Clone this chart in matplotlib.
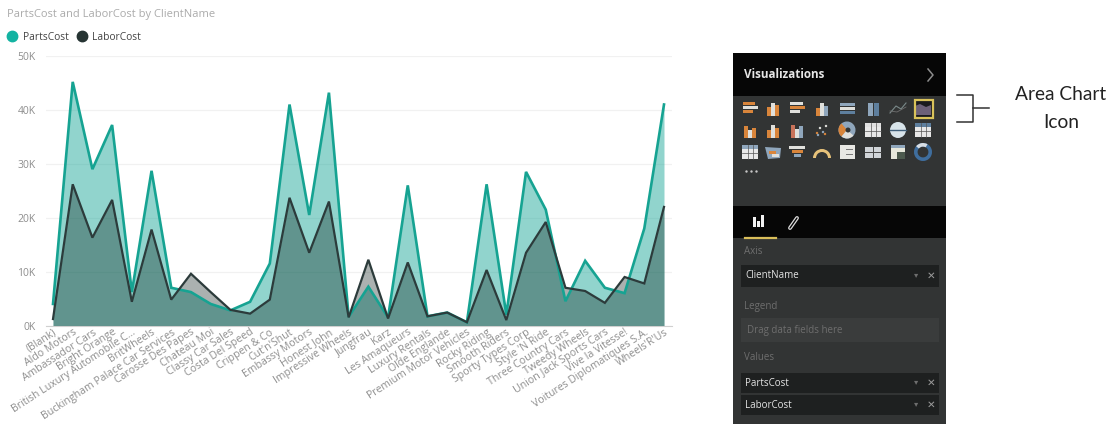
import matplotlib
matplotlib.use("Agg")
import matplotlib.pyplot as plt
from matplotlib.lines import Line2D
from matplotlib.patches import Rectangle, Circle, Wedge, Polygon

plt.rcParams['font.family'] = ['Open Sans', 'DejaVu Sans']

W, H = 1115, 424

clients = ["(Blank)", "Aldo Motors", "Ambassador Cars", "Bright Orange", "British Luxury Automobile C...",
           "BritWheels", "Buckingham Palace Car Services", "Carosse Des Papes", "Chateau Moi", "Classy Car Sales",
           "Costa Del Speed", "Crippen & Co", "Cut'n'Shut", "Embassy Motors", "Honest John", "Impressive Wheels",
           "Jungfrau", "Karz", "Les Amaqueurs", "Luxury Rentals", "Olde Englande", "Premium Motor Vehicles",
           "Rocky Riding", "Smooth Riders", "Sporty Types Corp", "Style 'N Ride", "Three Country Cars",
           "Tweedy Wheels", "Union Jack Sports Cars", "Vive la Vitesse!", "Voitures Diplomatiques S.A.", "Wheels'R'Us"]
parts_cost = [4000, 45200, 29000, 37200, 6200, 28700, 7000, 6200, 4000, 2800, 4400, 11500, 41000, 20500, 43200, 1600,
              7200, 1500, 26000, 1700, 2400, 600, 26200, 2000, 28500, 21500, 4500, 12000, 7000, 6000, 18000, 41000]
labor_cost = [1200, 26200, 16300, 23300, 4400, 17800, 4800, 9600, 6200, 2900, 2200, 4800, 23700, 13500, 23000, 1500,
              12200, 1300, 11700, 1700, 2400, 600, 10300, 1000, 13500, 19200, 7000, 6400, 4200, 9000, 7800, 22000]
y_ticks = [0, 10000, 20000, 30000, 40000, 50000]
y_labels = ["0K", "10K", "20K", "30K", "40K", "50K"]

TEAL = "#16A392"
DARK = "#2C3B3B"
GREY = "#8E8E8E"

fig = plt.figure(figsize=(W / 100, H / 100), dpi=100, facecolor="white")

L, R, T, B = 46, 672, 56, 325.5
ax = fig.add_axes([L / W, 1 - B / H, (R - L) / W, (B - T) / H])
x = list(range(len(clients)))
ax.fill_between(x, parts_cost, color="#19A697", alpha=0.48, lw=0, zorder=2)
ax.fill_between(x, labor_cost, color="#00140F", alpha=0.33, lw=0, zorder=3)
ax.plot(x, parts_cost, color=TEAL, lw=1.9, zorder=4, solid_joinstyle="miter")
ax.plot(x, labor_cost, color=DARK, lw=1.6, zorder=5, solid_joinstyle="miter")
ax.set_xlim(-7 / 19.71, 31 + 8 / 19.71)
ax.set_ylim(0, 50000)
ax.set_yticks(y_ticks, y_labels, fontsize=7.5, color=GREY)
ax.set_xticks(x, clients, fontsize=7.6, color=GREY, rotation=33, ha="right", rotation_mode="anchor")
ax.tick_params(length=0)
ax.tick_params(axis="y", pad=7.5)
ax.tick_params(axis="x", pad=1)
ax.grid(axis="y", color="#F1F1F1", lw=0.9, zorder=0)
ax.set_axisbelow(True)
for s in ["top", "left", "right"]:
    ax.spines[s].set_visible(False)
ax.spines["bottom"].set_color("#D0D0D0")
ax.patch.set_alpha(0)

handles = [Line2D([], [], ls="", marker="o", ms=7.5, color="#13B3A2", label="PartsCost"),
           Line2D([], [], ls="", marker="o", ms=7.5, color="#263433", label="LaborCost")]
leg = fig.legend(handles=handles, loc="lower left", bbox_to_anchor=(-3 / W, 1 - 48 / H), ncol=2, frameon=False,
                 fontsize=7.4, handletextpad=0.0, columnspacing=0.3, labelcolor="#444444", borderpad=0.0)

# pixel-space overlay for title and the side panel
ov = fig.add_axes([0, 0, 1, 1], zorder=-1)
ov.set_xlim(0, W)
ov.set_ylim(H, 0)
ov.axis("off")
ov.text(7, 14.5, "PartsCost and LaborCost by ClientName", fontsize=8, color="#ABABAB", va="center")

# panel
ov.add_patch(Rectangle((733, 53), 213, 371, color="#323434", lw=0))
ov.add_patch(Rectangle((733, 53), 213, 43, color="#060606", lw=0))
ov.add_patch(Rectangle((733, 206), 213, 32, color="#060606", lw=0))
ov.text(744, 75, "Visualizations", fontsize=8.4, color="#E6E6E6", fontweight="bold", va="center")
ov.plot([928, 933, 928], [69, 75, 81], color="#8C8C8C", lw=1.1)

ORANGE, BLUE, WHITE, SLATE = "#D9853B", "#5E7F9E", "#E0E0DC", "#8FA6BC"
xs = [750, 773, 797, 822, 847, 873, 898, 923]
ys = [108, 130, 152]

def bars(cx, cy, spec):
    for dx, w, h, c in spec:
        ov.add_patch(Rectangle((cx + dx, cy + 7 - h), w + 0.8, h + 1, color=c, lw=0))

def hbars(cx, cy, spec):
    for dy, w, c in spec:
        ov.add_patch(Rectangle((cx - 7.5, cy + dy), w + 1, 3.4, color=c, lw=0))

def grid(cx, cy, top="#8FA6BC"):
    ov.add_patch(Rectangle((cx - 8, cy - 7), 16, 14, color="#E8E8E8", lw=0))
    ov.add_patch(Rectangle((cx - 8, cy - 7), 16, 3.5, color=top, lw=0))
    ov.plot([cx - 2.5, cx - 2.5], [cy - 7, cy + 7], color="#555555", lw=0.5)
    ov.plot([cx + 2.5, cx + 2.5], [cy - 7, cy + 7], color="#555555", lw=0.5)
    ov.plot([cx - 8, cx + 8], [cy + 1, cy + 1], color="#555555", lw=0.5)

hbars(xs[0], ys[0], [(-6, 11, ORANGE), (-2, 14, WHITE), (2, 9, ORANGE)])
bars(xs[1], ys[0], [(-6, 3, 8, ORANGE), (-2, 3, 12, WHITE), (2, 3, 10, ORANGE)])
hbars(xs[2], ys[0], [(-6, 12, WHITE), (-2, 14, ORANGE), (2, 9, WHITE)])
bars(xs[3], ys[0], [(-6, 3, 7, ORANGE), (-2, 3, 12, WHITE), (2, 3, 9, SLATE)])
hbars(xs[4], ys[0], [(-5, 14, SLATE), (-1, 14, WHITE), (3, 14, BLUE)])
bars(xs[5], ys[0], [(-5, 4, 12, SLATE), (1, 4, 12, BLUE)])
ov.plot([xs[6] - 8, xs[6] - 2, xs[6] + 3, xs[6] + 8], [ys[0] + 5, ys[0] - 2, ys[0] + 1, ys[0] - 5], color="#7A8A8A", lw=0.8)
ov.plot([xs[6] - 8, xs[6] - 1, xs[6] + 8], [ys[0] + 3, ys[0] + 4, ys[0] - 1], color="#6F6F6F", lw=0.6)
ov.add_patch(Rectangle((915, 100), 17, 17, color="#1A1A1E", lw=0))
ov.add_patch(Polygon([(xs[7] - 8, ys[0] - 2), (xs[7] - 3, ys[0] - 4), (xs[7] + 3, ys[0] - 1), (xs[7] + 8, ys[0] - 3),
                      (xs[7] + 8, ys[0] + 7), (xs[7] - 8, ys[0] + 7)], color="#6C6078", lw=0))
ov.add_patch(Rectangle((914.5, 99.5), 18.5, 18.5, fill=False, ec="#D9C25A", lw=1.6))

bars(xs[0], ys[1], [(-6, 3, 11, ORANGE), (-2, 3, 7, WHITE), (2, 3, 9, ORANGE)])
bars(xs[1], ys[1], [(-6, 3, 7, ORANGE), (-2, 3, 12, WHITE), (2, 3, 9, ORANGE)])
bars(xs[2], ys[1], [(-6, 3, 12, "#C9735A"), (-2, 3, 8, WHITE), (2, 3, 11, SLATE)])
ov.scatter([xs[3] - 5, xs[3] - 2, xs[3] + 1, xs[3] + 4, xs[3] - 4, xs[3] + 3],
           [ys[1] + 3, ys[1] - 2, ys[1] + 2, ys[1] - 4, ys[1] + 5, ys[1] + 4], s=3, c=[ORANGE, WHITE, SLATE, WHITE, SLATE, ORANGE], lw=0)
ov.add_patch(Wedge((xs[4], ys[1]), 8.5, 0, 360, color=SLATE, lw=0))
ov.add_patch(Wedge((xs[4], ys[1]), 8.5, 130, 230, color=ORANGE, lw=0))
ov.add_patch(Wedge((xs[4], ys[1]), 8.5, 40, 130, color=WHITE, lw=0))
ov.add_patch(Circle((xs[4] + 1, ys[1]), 2.5, color="#323434", lw=0))
grid(xs[5], ys[1], "#E0E0E0")
ov.add_patch(Circle((xs[6], ys[1]), 8, color="#D8E4EA", lw=0))
ov.plot([xs[6] - 8, xs[6] + 8], [ys[1], ys[1]], color="#3F5F7A", lw=1)
grid(xs[7], ys[1], "#5E7F9E")

grid(xs[0], ys[2], "#8FA6BC")
ov.add_patch(Polygon([(xs[1] - 8, ys[2] - 5), (xs[1] + 8, ys[2] - 4), (xs[1] + 7, ys[2] + 6), (xs[1] - 5, ys[2] + 7)], color=SLATE, lw=0))
ov.add_patch(Rectangle((xs[1] - 4, ys[2] - 1), 7, 3, color=ORANGE, lw=0))
ov.add_patch(Rectangle((xs[1] - 1, ys[2] + 2), 7, 3, color=WHITE, lw=0))
for i, (w, c) in enumerate([(16, WHITE), (11, ORANGE), (7, SLATE)]):
    ov.add_patch(Rectangle((xs[2] - w / 2, ys[2] - 6 + i * 4), w, 3.4, color=c, lw=0))
ov.add_patch(Wedge((xs[3], ys[2] + 6), 9, 180, 360, width=3, color="#E7C27A", lw=0))
ov.add_patch(Rectangle((xs[4] - 7, ys[2] - 7), 15, 14, color="#E8E8E4", lw=0))
ov.plot([xs[4] - 1, xs[4] + 5], [ys[2] - 3, ys[2] - 3], color="#777777", lw=0.7)
ov.plot([xs[4] - 1, xs[4] + 5], [ys[2] + 2, ys[2] + 2], color="#777777", lw=0.7)
ov.add_patch(Rectangle((xs[5] - 8, ys[2] - 5), 16, 11, color="#D0D4D8", lw=0))
ov.plot([xs[5], xs[5]], [ys[2] - 5, ys[2] + 6], color="#444444", lw=0.7)
ov.plot([xs[5] - 8, xs[5] + 8], [ys[2], ys[2]], color="#444444", lw=0.7)
ov.add_patch(Rectangle((xs[6] - 7, ys[2] - 7), 14, 14, color="#E8E8DC", lw=0))
ov.add_patch(Rectangle((xs[6] - 7, ys[2] - 7), 14, 3, color=SLATE, lw=0))
ov.add_patch(Rectangle((xs[6] - 1, ys[2]), 8, 7, color="#4D5A4E", lw=0))
ov.add_patch(Wedge((xs[7], ys[2]), 9, 0, 360, width=3.6, color="#3F6E9E", lw=0))
ov.add_patch(Wedge((xs[7], ys[2]), 9, 220, 300, width=3.6, color="#D8DEE4", lw=0))
ov.scatter([746, 751, 756], [171, 171, 171], s=3, c="#C8C8C8", lw=0)

# tab icons
for dx, w, h in [(0, 3, 10), (4, 3, 6), (8, 3, 12)]:
    ov.add_patch(Rectangle((753 + dx, 227 - h), w, h, color="#F2F2F2", lw=0))
ov.plot([790, 797], [228, 218], color="#DDDDDD", lw=2.8, solid_capstyle="round")
ov.plot([790, 797], [228, 218], color="#060606", lw=1.0, solid_capstyle="round")
ov.plot([745, 776], [237.5, 237.5], color="#D9BE5A", lw=1.6)

# wells
ov.add_patch(Rectangle((741, 318), 198, 24, color="#3A3C3C", lw=0))
ov.text(744, 252, "Axis", fontsize=7, color="#6E6E6E", va="center")
ov.text(744, 306, "Legend", fontsize=7, color="#6E6E6E", va="center")
ov.text(747, 330, "Drag data fields here", fontsize=7, color="#6E6E6E", va="center")
ov.text(744, 358, "Values", fontsize=7, color="#6E6E6E", va="center")
for y0, y1, label in [(265, 287, "ClientName"), (373, 393, "PartsCost"), (395, 415, "LaborCost")]:
    ov.add_patch(Rectangle((741, y0), 198, y1 - y0, color="#1E2020", lw=0))
    yc = (y0 + y1) / 2
    ov.text(745, yc, label, fontsize=7, color="#E4E4E4", va="center")
    ov.text(916, yc, "\u25be", fontsize=6, color="#6E6E6E", va="center", ha="center")
    ov.text(931, yc, "\u2715", fontsize=7.5, color="#9A9A9A", va="center", ha="center")

# callout
ov.plot([957, 973, 973, 957], [95, 95, 122, 122], color="#333333", lw=1.1)
ov.plot([973, 989], [108, 108], color="#333333", lw=1.1)
ov.text(1061, 95, "Area Chart", fontsize=13.8, color="#222222", ha="center", va="center", family=["Lato", "DejaVu Sans"])
ov.text(1061, 122, "Icon", fontsize=13.8, color="#222222", ha="center", va="center", family=["Lato", "DejaVu Sans"])

fig.savefig("out.png", dpi=100)
